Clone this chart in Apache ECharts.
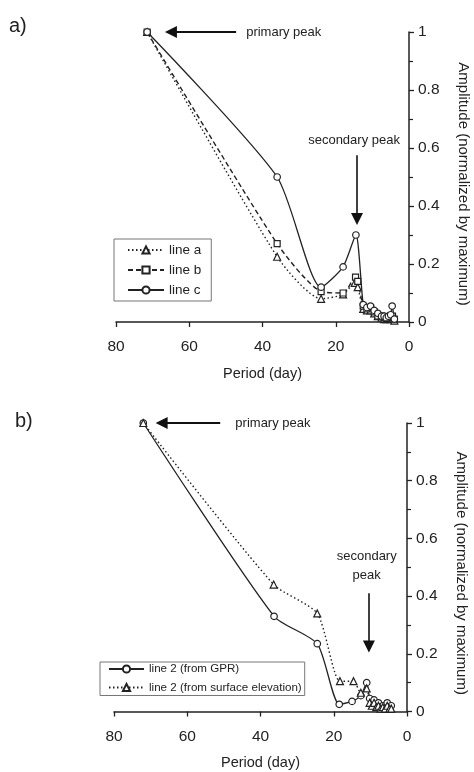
<!DOCTYPE html>
<html>
<head>
<meta charset="utf-8">
<script src="https://cdn.jsdelivr.net/npm/echarts@6/dist/echarts.min.js"></script>
<style>
  html, body { margin: 0; padding: 0; background: #fff; }
  #chart { width: 474px; height: 772px; }
</style>
</head>
<body>
<div id="chart"></div>
<script>
// Tick values shared by both panels
const periodTicks = [0, 20, 40, 60, 80];
const amplitudeTicks = [0, 0.2, 0.4, 0.6, 0.8, 1];

// Panel a: period (day) and normalized amplitude for the three lines
const periodA = [71.5, 36, 24, 18, 14.8, 14, 12.5, 11.5, 10.5, 9.5, 8.5, 7.5, 6.8, 6.2, 5.6, 5, 4.5, 4];
const ampA    = [1, 0.225, 0.08, 0.095, 0.135, 0.12, 0.045, 0.04, 0.04, 0.03, 0.02, 0.015, 0.01, 0.01, 0.012, 0.01, 0.015, 0.005];
const periodB = [71.5, 36, 24, 18, 14.6, 14, 12.5, 11.5, 10.5, 9.5, 8.5, 7.5, 6.8, 6.2, 5.6, 5, 4.5, 4];
const ampB    = [1, 0.27, 0.105, 0.1, 0.155, 0.14, 0.055, 0.045, 0.05, 0.035, 0.02, 0.02, 0.015, 0.012, 0.015, 0.02, 0.02, 0.01];
const periodC = [71.5, 36, 24, 18, 14.5, 12.5, 11.5, 10.5, 9.5, 8.5, 7.5, 6.8, 6.2, 5.6, 5, 4.6, 4];
const ampC    = [1, 0.5, 0.12, 0.19, 0.3, 0.06, 0.05, 0.055, 0.04, 0.03, 0.02, 0.02, 0.015, 0.02, 0.025, 0.055, 0.01];

// Panel b: line 2 from GPR and from surface elevation
const periodGpr = [72, 36.3, 24.5, 18.5, 15, 12.6, 11, 10.2, 9.6, 9, 8.4, 7.8, 7.2, 6.6, 6, 5.4, 4.8, 4.3];
const ampGpr    = [1, 0.33, 0.235, 0.025, 0.035, 0.055, 0.1, 0.045, 0.03, 0.04, 0.02, 0.03, 0.015, 0.02, 0.01, 0.03, 0.015, 0.02];
const periodSurf = [72, 36.4, 24.5, 18.3, 14.6, 12.6, 11, 10.2, 9.6, 9, 8.4, 7.8, 7.2, 6.6, 6, 5.4, 4.8, 4.3];
const ampSurf    = [1, 0.44, 0.34, 0.105, 0.105, 0.065, 0.08, 0.03, 0.02, 0.03, 0.015, 0.02, 0.01, 0.015, 0.01, 0.02, 0.01, 0.01];

const INK = '#222';
const FONT = '"Liberation Sans", Arial, sans-serif';

const pairs = (xs, ys) => xs.map((x, i) => [x, ys[i]]);

function xAxisFor(gridIndex) {
  return {
    type: 'value', gridIndex, min: 0, max: 80, interval: 20, inverse: true,
    name: 'Period (day)', nameLocation: 'middle', nameGap: 44,
    nameTextStyle: { fontFamily: FONT, fontSize: 14.5, color: INK },
    axisLine: { lineStyle: { color: INK, width: 1.5 } },
    axisTick: { inside: false, length: 5, lineStyle: { color: INK, width: 1.3 } },
    axisLabel: { fontFamily: FONT, fontSize: 15.5, color: INK, margin: 17,
      formatter: v => periodTicks.includes(v) ? String(v) : '' },
    splitLine: { show: false }
  };
}

function yAxisFor(gridIndex, nameGap, shift) {
  return {
    type: 'value', gridIndex, position: 'right', min: 0, max: 1, interval: 0.2,
    name: 'Amplitude (normalized by maximum)', nameLocation: 'middle', nameRotate: -90, nameGap,
    nameTextStyle: { fontFamily: FONT, fontSize: 15, color: INK, padding: [0, 0, 0, shift] },
    axisLine: { show: true, lineStyle: { color: INK, width: 1.5 } },
    axisTick: { show: true, inside: false, length: 5, lineStyle: { color: INK, width: 1.3 } },
    minorTick: { show: true, splitNumber: 2, length: 4, lineStyle: { color: INK, width: 1.2 } },
    axisLabel: { fontFamily: FONT, fontSize: 15.5, color: INK, margin: 9,
      formatter: v => amplitudeTicks.some(t => Math.abs(t - v) < 1e-9) ? String(+v.toFixed(1)) : '' },
    splitLine: { show: false }
  };
}

function lineSeries(name, gridIndex, data, symbol, symbolSize, dash) {
  return {
    name, type: 'line', xAxisIndex: gridIndex, yAxisIndex: gridIndex,
    data, smooth: 0.22, symbol, symbolSize,
    lineStyle: { color: INK, width: dash === 'solid' ? 1.3 : 1.4, type: dash },
    itemStyle: { color: '#fff', borderColor: INK, borderWidth: 1.2 },
    emphasis: { disabled: true }, z: 3
  };
}

// Annotation layer of a panel: arrows and texts placed in data coordinates
function annotations(gridIndex, arrows, texts) {
  return {
    name: 'annotations-' + gridIndex, type: 'line', xAxisIndex: gridIndex, yAxisIndex: gridIndex,
    data: [], silent: true, itemStyle: { color: '#111' },
    markLine: {
      silent: true, animation: false,
      symbol: ['none', 'triangle'], symbolSize: 12,
      label: { show: false },
      data: arrows.map(a => [
        { coord: a.from, lineStyle: { type: 'solid', color: '#111', width: a.width } },
        { coord: a.to }
      ])
    },
    markPoint: {
      silent: true, animation: false,
      symbol: 'circle', symbolSize: 1, itemStyle: { color: 'rgba(0,0,0,0)' },
      data: texts.map(t => ({
        name: t.text, coord: t.at,
        label: { show: true, formatter: '{b}', position: t.pos, distance: 0,
          fontFamily: FONT, fontSize: 13, color: INK, lineHeight: 19 }
      }))
    }
  };
}

const series = [
  lineSeries('line a', 0, pairs(periodA, ampA), 'triangle', 7, [1.5, 2.5]),
  lineSeries('line b', 0, pairs(periodB, ampB), 'rect', 6, [5, 3]),
  lineSeries('line c', 0, pairs(periodC, ampC), 'circle', 6.5, 'solid'),
  lineSeries('line 2 (from GPR)', 1, pairs(periodGpr, ampGpr), 'circle', 6.5, 'solid'),
  lineSeries('line 2 (from surface elevation)', 1, pairs(periodSurf, ampSurf), 'triangle', 7, [1.5, 2.5]),
  annotations(0,
    [{ from: [47.2, 1], to: [65, 1], width: 2.2 }, { from: [14.2, 0.575], to: [14.2, 0.355], width: 1.6 }],
    [{ text: 'primary peak', at: [44.6, 1], pos: 'right' }, { text: 'secondary peak', at: [15.0, 0.625], pos: 'inside' }]),
  annotations(1,
    [{ from: [51, 1], to: [67, 1], width: 2.2 }, { from: [10.4, 0.41], to: [10.4, 0.225], width: 1.6 }],
    [{ text: 'primary peak', at: [47, 1], pos: 'right' }, { text: 'secondary\npeak', at: [11.0, 0.505], pos: 'inside' }])
];

const legendBase = {
  orient: 'vertical', backgroundColor: '#fff', borderColor: '#777', borderWidth: 1,
  selectedMode: false, itemHeight: 9,
  textStyle: { fontFamily: FONT, fontSize: 13.5, color: INK }
};

const option = {
  animation: false,
  backgroundColor: '#fff',
  grid: [
    { left: 116, right: 65, top: 32, height: 290, outerBoundsMode: 'none', containLabel: false },
    { left: 114, right: 67, top: 423, height: 288.5, outerBoundsMode: 'none', containLabel: false }
  ],
  xAxis: [xAxisFor(0), xAxisFor(1)],
  yAxis: [yAxisFor(0, 47, 14), yAxisFor(1, 47, 12)],
  legend: [
    { ...legendBase, left: 114, top: 239, padding: [4, 10, 4, 13], itemGap: 6, itemWidth: 36,
      data: ['line a', 'line b', 'line c'] },
    { ...legendBase, left: 100, top: 662, padding: [1, 3, 2, 8], itemGap: 6.5, itemWidth: 35,
      textStyle: { ...legendBase.textStyle, fontSize: 11.6 },
      data: ['line 2 (from GPR)', 'line 2 (from surface elevation)'] }
  ],
  graphic: [
    { type: 'text', left: 9, top: 16, style: { text: 'a)', font: '20px ' + FONT, fill: INK } },
    { type: 'text', left: 15, top: 411, style: { text: 'b)', font: '20px ' + FONT, fill: INK } }
  ],
  series
};

const chart = echarts.init(document.getElementById('chart'), null, { renderer: 'canvas' });
chart.setOption(option);
</script>
</body>
</html>
